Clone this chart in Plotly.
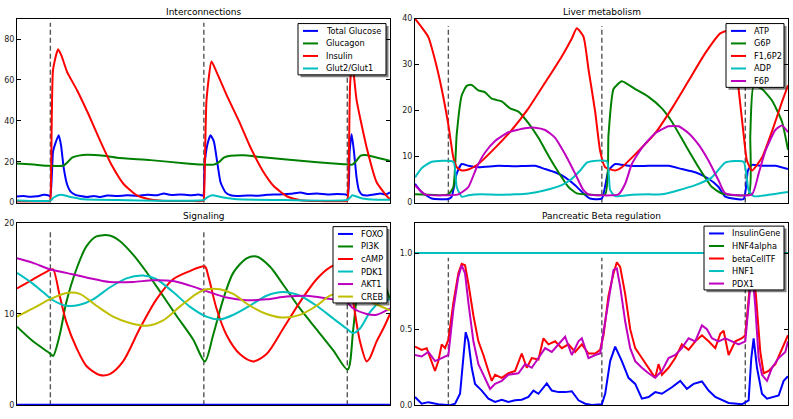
import plotly.graph_objects as go

# ---------------- data ----------------
meal_times = [100, 560, 990]
t_end = 1118

# Interconnections
glucose_t = [0,20,40,60,80,95,100,108,115,125,132,140,150,160,175,190,210,230,250,270,300,330,360,390,420,440,460,490,520,545,558,562,570,580,590,600,610,625,640,660,690,720,750,780,820,850,870,900,930,960,985,992,997,1003,1010,1018,1025,1035,1050,1070,1090,1105,1118]
glucose = [3.0,3.2,2.9,3.1,3.8,3.5,3.0,25,29,33,28,17,9,5.5,3.8,3.2,2.8,3.3,2.8,3.5,3.2,3.6,3.3,3.8,3.6,4.5,3.8,4.0,3.6,4.0,3.5,18,28,33,30,20,10,5,3.6,3.2,3.5,3.4,3.8,4.0,4.3,5.0,4.2,4.5,4.0,4.2,4.0,3.6,25,33.5,25,12,6,3.8,3.5,4.0,4.5,4.0,5.0]
glucagon_t = [0,50,100,140,150,165,185,210,260,300,400,500,550,590,605,620,640,680,720,800,900,980,1005,1015,1030,1045,1080,1118]
glucagon = [19.2,18.6,18.0,18.2,19.5,22.0,23.0,23.4,22.9,22.0,20.8,19.3,18.6,18.6,19.8,22.0,22.9,23.2,22.5,21.2,19.8,18.8,18.6,20.0,23.0,23.3,22.0,20.5]
insulin_t = [0,50,98,100,108,123,133,150,180,215,250,285,320,360,400,450,520,558,560,568,583,598,630,665,700,735,770,810,850,900,988,991,998,1004,1018,1048,1078,1113,1118]
insulin = [0.6,0.6,0.6,1.0,65,75,72,64,55,43,30,18,9,3.5,1.5,0.8,0.8,0.8,1.5,50,69,64,52,40,27,16,8,3,1.2,0.8,0.8,1.5,56,70,50,27,10,2.4,2.0]
glut_t = [0,100,110,130,160,200,300,560,570,585,615,660,800,990,1000,1005,1035,1080,1118]
glut = [1.0,1.0,2.5,3.8,2.8,1.6,1.3,1.3,2.6,3.6,2.6,1.6,1.3,1.3,2.8,3.6,2.0,1.4,1.4]

# Liver metabolism
atp_t = [0,20,50,100,110,125,140,160,190,250,300,360,390,420,450,480,505,525,560,580,600,640,700,760,800,840,880,910,930,985,998,1010,1040,1080,1118]
atp = [4.1,2.3,0.9,0.8,1.3,6.3,8.4,8.0,7.7,8.0,7.9,8.0,7.3,6.6,5.5,3.8,2.0,0.9,0.9,7.0,8.4,8.0,8.0,8.0,7.3,6.6,5.2,3.4,1.3,0.8,7.0,8.2,8.0,8.0,7.3]
g6p_t = [0,100,115,125,140,155,170,190,210,230,260,285,310,340,370,400,430,460,485,510,570,580,595,620,660,700,740,770,810,850,890,920,1000,1005,1015,1040,1070,1100,1118]
g6p = [1.8,1.8,3.4,14.8,23.3,25.4,25.6,24.4,24.0,22.6,22.0,20.5,19.8,17.3,14.1,10.2,6.6,3.4,2.0,1.8,1.8,14.8,24.7,26.4,24.7,23.0,20.5,17.6,12.6,7.7,3.4,2.0,1.8,14.8,25.4,24.7,22.2,17.6,11.5]
f16p2_t = [0,40,60,80,100,115,125,140,160,190,240,290,340,390,440,470,485,505,520,540,555,570,600,620,660,720,770,820,870,915,935,955,970,985,995,1010,1040,1070,1100,1118]
f16p2 = [40,36,31,24.7,16.9,9.8,7.7,7.0,7.2,8.4,11.9,15.8,20.5,26.1,31.8,35.7,37.9,36.1,29,19.8,11.2,7.7,7.0,7.7,10.5,15.1,20.5,26.5,32.5,36.8,37.3,33,24.7,14.8,9.1,7.0,9.8,15.5,21.9,25.5]
adp_t = [0,20,50,115,125,140,160,200,250,300,340,390,440,470,495,515,530,575,585,600,650,700,740,790,840,890,930,985,1000,1015,1060,1118]
adp = [5.5,7.5,8.9,8.9,3.4,1.3,1.6,1.8,1.7,1.8,2.0,2.7,3.8,5.2,7.0,8.7,9.0,9.0,2.7,1.4,1.7,1.8,1.8,2.7,3.8,5.5,8.7,8.9,2.7,1.4,1.7,2.3]
f6p_t = [0,30,130,160,185,210,240,280,330,360,390,420,450,480,505,520,610,630,650,680,720,760,790,820,850,880,910,930,1010,1030,1050,1080,1100,1118]
f6p = [3.8,1.8,1.8,3.4,7.7,10.9,13.4,15.3,16.2,16.3,15.8,14.1,10.5,6.3,2.7,1.8,1.8,4.1,8.4,11.9,15.1,16.6,16.6,15.1,12.6,9.1,4.8,2.0,1.8,6.3,11.2,15.8,16.8,15.3]

# Signaling
foxo_t = [0,1118]
foxo = [0.05,0.05]
pi3k_t = [0,48,98,108,128,148,178,208,238,278,308,348,388,428,478,528,563,588,618,648,688,718,758,798,848,898,948,991,1008,1023,1045,1070,1095,1118]
pi3k = [8.6,7.0,5.7,5.4,7.7,11.3,14.9,17.4,18.5,18.6,18.0,16.5,14.6,12.5,9.8,7.2,4.8,7.7,11.6,14.5,16.1,16.3,15.2,13.2,10.6,8.3,6.0,3.9,8.4,13.1,15.8,16.2,14.0,11.6]
camp_t = [0,48,98,108,128,148,178,208,248,278,318,368,418,468,518,563,573,598,628,668,708,748,798,848,898,938,991,1008,1028,1048,1058,1078,1098,1118]
camp = [12.8,13.8,14.8,14.9,12.0,9.1,6.3,4.3,3.3,3.4,4.8,8.4,11.6,13.8,14.7,15.2,14.2,10.6,7.7,5.6,4.8,5.6,8.4,11.3,13.8,15.1,15.8,11.3,7.0,4.8,5.2,7.0,8.4,10.0]
pdk1_t = [0,48,78,108,148,188,228,278,328,378,418,468,518,568,608,648,698,748,798,848,898,948,988,1008,1028,1058,1088,1118]
pdk1 = [14.5,13.3,12.4,11.5,10.9,11.0,11.6,12.9,13.9,14.2,13.8,12.4,10.8,9.7,9.4,9.9,10.9,12.0,12.4,12.0,10.9,9.5,8.4,7.9,8.4,10.2,11.3,11.6]
akt1_t = [0,48,98,148,208,278,348,408,468,518,568,628,688,748,808,868,928,988,1008,1048,1078,1118]
akt1 = [16.1,15.6,14.9,14.5,14.0,13.5,13.5,13.7,13.6,13.1,12.5,11.8,11.5,11.6,11.9,12.0,11.7,11.3,10.6,10.0,9.9,10.6]
creb_t = [0,48,98,148,188,238,288,338,388,438,488,538,568,608,648,698,748,798,848,898,938,988,1048,1118]
creb = [9.7,10.6,11.6,12.3,12.2,10.9,9.7,9.0,8.7,9.3,10.8,12.2,12.7,12.7,12.2,10.9,10.0,9.6,9.9,10.9,12.0,12.4,11.5,10.4]

# Pancreatic Beta regulation
insgene_t = [0,20,40,70,105,120,135,145,152,160,170,180,200,220,240,260,280,300,320,340,355,370,395,410,430,450,470,490,510,530,560,570,585,600,620,640,660,680,700,720,740,770,795,815,835,860,880,900,920,940,980,1000,1008,1015,1025,1040,1055,1070,1090,1105,1118]
insgene = [0.054,0.01,0.02,0.006,0.0,0.01,0.075,0.31,0.48,0.42,0.246,0.14,0.096,0.043,0.021,0.036,0.021,0.032,0.036,0.054,0.096,0.075,0.143,0.096,0.086,0.086,0.092,0.032,0.01,0.002,0.006,0.075,0.29,0.385,0.29,0.18,0.14,0.043,0.054,0.086,0.075,0.118,0.16,0.107,0.14,0.156,0.096,0.054,0.032,0.015,0.006,0.032,0.31,0.44,0.246,0.075,0.043,0.054,0.064,0.16,0.19]
hnf4_t = [0,1118]
hnf4 = [1.0,1.0]
btf_t = [0,20,35,45,60,70,80,90,100,115,130,140,150,160,175,190,205,220,230,240,260,280,300,320,335,350,370,385,400,420,440,460,480,500,520,540,555,565,580,595,605,615,630,645,660,680,700,720,730,740,760,780,800,820,840,860,880,900,915,925,940,960,980,990,1000,1010,1022,1035,1045,1060,1080,1100,1118]
btf = [0.385,0.364,0.375,0.32,0.225,0.29,0.40,0.375,0.43,0.675,0.867,0.93,0.92,0.80,0.59,0.42,0.33,0.225,0.16,0.20,0.18,0.21,0.225,0.34,0.246,0.31,0.30,0.44,0.40,0.42,0.375,0.40,0.35,0.40,0.34,0.34,0.364,0.46,0.72,0.867,0.94,0.91,0.73,0.50,0.375,0.31,0.246,0.18,0.27,0.20,0.246,0.31,0.40,0.364,0.42,0.46,0.42,0.375,0.47,0.49,0.33,0.42,0.44,0.46,0.70,0.95,0.72,0.35,0.21,0.225,0.27,0.375,0.46]
hnf1_t = [0,1118]
hnf1 = [1.0,1.0]
pdx1_t = [0,20,40,60,80,100,115,130,140,150,160,175,190,210,225,240,260,280,310,330,350,370,390,410,430,450,470,490,500,520,540,555,565,580,595,605,615,630,645,660,680,700,720,740,760,780,800,820,840,860,875,890,910,930,950,970,990,1000,1010,1020,1030,1040,1055,1070,1090,1110,1118]
pdx1 = [0.33,0.32,0.35,0.29,0.31,0.33,0.63,0.845,0.92,0.867,0.675,0.42,0.27,0.18,0.107,0.14,0.16,0.20,0.21,0.27,0.246,0.31,0.375,0.35,0.40,0.45,0.33,0.42,0.44,0.31,0.33,0.34,0.48,0.70,0.89,0.90,0.78,0.55,0.375,0.29,0.246,0.21,0.18,0.225,0.31,0.33,0.375,0.44,0.42,0.525,0.50,0.44,0.42,0.44,0.42,0.40,0.42,0.65,0.90,0.65,0.31,0.20,0.16,0.246,0.31,0.35,0.42]

# tick labels
ticks_inter = [0, 20, 40, 60, 80]
ticks_liver = [0, 10, 20, 30, 40]
ticks_signal = [0, 10, 20]
ticks_beta = [0.0, 0.5, 1.0]
ticktext_beta = ["0.0", "0.5", "1.0"]

# ---------------- styling / layout ----------------
W, H = 793, 419
FONT = "DejaVu Sans"
C = dict(b="#0000ff", g="#008000", r="#ff0000", c="#00bfbf", m="#bf00bf", y="#bfbf00")


def fx(px):
    return px / W


def fy(py):
    return 1 - py / H


panels = [
    dict(ax="", title="Interconnections", box=(17, 15, 390, 203), yrange=[0, 90],
         tickvals=ticks_inter, ticktext=[str(v) for v in ticks_inter], dash_top=88,
         legend=(298, 20, 386), smooth=0.5,
         series=[("Total Glucose", glucose_t, glucose, C["b"]),
                 ("Glucagon", glucagon_t, glucagon, C["g"]),
                 ("Insulin", insulin_t, insulin, C["r"]),
                 ("Glut2/Glut1", glut_t, glut, C["c"])]),
    dict(ax="2", title="Liver metabolism", box=(415, 15, 788, 203), yrange=[0, 40],
         tickvals=ticks_liver, ticktext=[str(v) for v in ticks_liver], dash_top=38.4,
         legend=(726, 20, 784), smooth=0.5,
         series=[("ATP", atp_t, atp, C["b"]),
                 ("G6P", g6p_t, g6p, C["g"]),
                 ("F1,6P2", f16p2_t, f16p2, C["r"]),
                 ("ADP", adp_t, adp, C["c"]),
                 ("F6P", f6p_t, f6p, C["m"])]),
    dict(ax="3", title="Signaling", box=(17, 223.5, 390, 410), yrange=[0, 20],
         tickvals=ticks_signal, ticktext=[str(v) for v in ticks_signal], dash_top=19,
         legend=(333, 227.5, 387), smooth=0.8,
         series=[("FOXO", foxo_t, foxo, C["b"]),
                 ("PI3K", pi3k_t, pi3k, C["g"]),
                 ("cAMP", camp_t, camp, C["r"]),
                 ("PDK1", pdk1_t, pdk1, C["c"]),
                 ("AKT1", akt1_t, akt1, C["m"]),
                 ("CREB", creb_t, creb, C["y"])]),
    dict(ax="4", title="Pancreatic Beta regulation", box=(415, 223.5, 788, 410), yrange=[0, 1.2],
         tickvals=ticks_beta, ticktext=ticktext_beta, dash_top=0.97,
         legend=(704, 227, 784), smooth=0,
         series=[("InsulinGene", insgene_t, insgene, C["b"]),
                 ("HNF4alpha", hnf4_t, hnf4, C["g"]),
                 ("betaCellTF", btf_t, btf, C["r"]),
                 ("HNF1", hnf1_t, hnf1, C["c"]),
                 ("PDX1", pdx1_t, pdx1, C["m"])]),
]

fig = go.Figure()
shapes = []
annotations = []
layout_axes = {}

for p in panels:
    ax = p["ax"]
    xref, yref = "x" + ax, "y" + ax
    x0, y0, x1, y1 = p["box"]
    layout_axes["xaxis" + ax] = dict(
        domain=[fx(x0), fx(x1)], range=[0, t_end], anchor=yref,
        showline=True, linecolor="black", linewidth=1, mirror=True,
        ticks="", showticklabels=False, showgrid=False, zeroline=False,
    )
    layout_axes["yaxis" + ax] = dict(
        domain=[fy(y1), fy(y0)], range=p["yrange"], anchor=xref,
        showline=True, linecolor="black", linewidth=1, mirror="ticks",
        ticks="inside", ticklen=4, tickwidth=1, tickcolor="black",
        tickvals=p["tickvals"], ticktext=p["ticktext"],
        tickfont=dict(family=FONT, size=8, color="#222"),
        showgrid=False, zeroline=False,
    )
    # meal markers
    for m in meal_times:
        shapes.append(dict(type="line", xref=xref, yref=yref, x0=m, x1=m, y0=0, y1=p["dash_top"],
                           line=dict(color="#555555", width=1.4, dash="5px,3px"), layer="below"))
    for name, t, v, col in p["series"]:
        line = dict(color=col, width=2)
        if p["smooth"] > 0:
            line.update(shape="spline", smoothing=p["smooth"])
        fig.add_trace(go.Scatter(x=t, y=v, mode="lines", name=name, line=line,
                                 xaxis=xref, yaxis=yref, showlegend=False, hoverinfo="skip"))
    # title
    annotations.append(dict(text=p["title"], xref="paper", yref="paper",
                            x=fx((x0 + x1) / 2), y=fy(y0 - 6.5), xanchor="center", yanchor="middle",
                            showarrow=False, font=dict(family=FONT, size=9, color="black")))
    # legend box (drawn like matplotlib's shadowed legend)
    lx0, ly0, lx1 = p["legend"]
    n = len(p["series"])
    ly1 = ly0 + 7.5 + (n - 1) * 12.8 + 6.5
    shapes.append(dict(type="rect", xref="paper", yref="paper",
                       x0=fx(lx0 + 2.5), x1=fx(lx1 + 2.5), y0=fy(ly1 + 2.5), y1=fy(ly0 + 2.5),
                       fillcolor="rgba(0,0,0,0.5)", line=dict(width=0), layer="above"))
    shapes.append(dict(type="rect", xref="paper", yref="paper",
                       x0=fx(lx0), x1=fx(lx1), y0=fy(ly1), y1=fy(ly0),
                       fillcolor="white", line=dict(color="black", width=1), layer="above"))
    for i, (name, t, v, col) in enumerate(p["series"]):
        ry = ly0 + 7.5 + i * 12.8
        shapes.append(dict(type="line", xref="paper", yref="paper",
                           x0=fx(lx0 + 5), x1=fx(lx0 + 20), y0=fy(ry), y1=fy(ry),
                           line=dict(color=col, width=2), layer="above"))
        annotations.append(dict(text=name, xref="paper", yref="paper",
                                x=fx(lx0 + 26), y=fy(ry), xanchor="left", yanchor="middle",
                                showarrow=False, font=dict(family=FONT, size=8.2, color="black")))

fig.update_layout(
    width=W, height=H,
    margin=dict(l=0, r=0, t=0, b=0),
    paper_bgcolor="white", plot_bgcolor="white",
    showlegend=False, hovermode=False,
    shapes=shapes, annotations=annotations,
    **layout_axes,
)

fig.write_html("out.html",
               config={"displayModeBar": False, "staticPlot": True},
               post_script="document.body.style.margin='0';document.body.style.overflow='hidden';")
